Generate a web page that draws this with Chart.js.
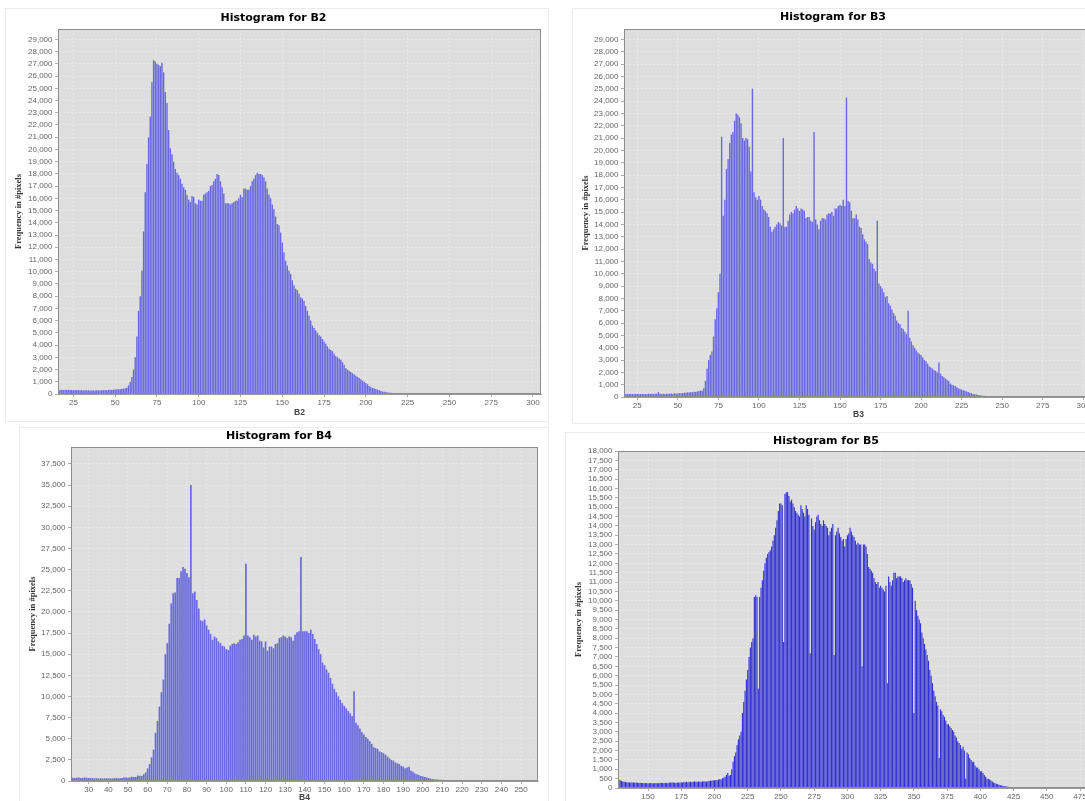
<!DOCTYPE html>
<html lang="es">
<head>
<meta charset="UTF-8">
<title>Histogramas B2 - B5</title>
<script src="https://cdn.jsdelivr.net/npm/chart.js@4.4.1/dist/chart.umd.min.js"></script>
<style>
    html, body { margin: 0; padding: 0; background: #fff; width: 1085px; height: 801px; overflow: hidden; position: relative; }
    canvas { position: absolute; background: #fff; outline: 1px solid #ebebeb; }
</style>
</head>
<body>
<canvas id="histB2" width="542" height="412" style="left:6px;top:9px"></canvas>
<canvas id="histB3" width="527" height="414" style="left:573px;top:9px"></canvas>
<canvas id="histB4" width="528" height="378" style="left:20px;top:428px"></canvas>
<canvas id="histB5" width="530" height="380" style="left:566px;top:433px"></canvas>
<script>
// Frecuencias por valor de banda (un valor por cada nivel, empezando en inicioBx)
const inicioB2 = 17;
const frecuenciasB2 = [
    330, 340, 320, 330, 340, 330, 320, 330, 310,
    320, 300, 310, 300, 300, 290, 300, 290, 300, 290,
    280, 290, 280, 300, 290, 290, 300, 310, 320, 300,
    330, 340, 330, 350, 360, 380, 400, 390, 420, 430,
    480, 520, 700, 1000, 1400,
    2000, 3000, 4700, 6800, 8000, 10100, 13300, 16500, 18800, 21000,
    22700, 25500, 27300, 27200, 27000, 26900, 26800, 27100, 26300, 24700,
    23800, 21600, 20100, 19600, 19000, 18400, 18100, 17900, 17600, 17200,
    16900, 16700, 16300, 15900, 15700, 16200, 16100, 15600, 15500, 15900,
    15800, 15800, 16300, 16400, 16500, 16600, 17000, 17100, 17400, 17600,
    18000, 17900, 17400, 16900, 16400, 15600, 15600, 15600, 15500, 15600,
    15700, 15800, 15800, 16000, 16300, 16100, 16800, 16800, 16700, 16700,
    17000, 17400, 17600, 17900, 18100, 18000, 18000, 17900, 17700, 17400,
    16800, 16300, 16000, 15500, 15100, 14500, 13900, 13800, 13200, 12400,
    11600, 10900, 10500, 10100, 9800, 9300, 8900, 8600, 8500, 8200,
    7900, 7800, 7600, 7200, 6800, 6400, 6000, 5600, 5400, 5200,
    5000, 4800, 4700, 4500, 4300, 4100, 3900, 3700, 3600, 3500,
    3300, 3100, 3000, 2900, 2800, 2600, 2400, 2100, 2000, 1900,
    1800, 1700, 1600, 1500, 1400, 1300, 1200, 1100, 1000, 900,
    800, 650, 550, 500, 450, 400, 350, 300, 250, 200,
    180, 150, 130, 110, 100, 90, 80, 70, 60, 50,
    40, 35, 30, 28, 25, 22, 20, 18, 15, 12
];

const inicioB3 = 16;
const frecuenciasB3 = [
    300, 260, 250, 240, 250, 240, 250, 240, 250, 240,
    250, 240, 240, 250, 240, 250, 260, 250, 260, 250,
    270, 260, 400, 260, 250, 260, 250, 260, 270, 260,
    280, 270, 300, 290, 280, 320, 300, 330, 350, 340,
    380, 360, 400, 380, 420, 400, 450, 480, 520,
    500, 700, 1300, 2300, 3000, 3400,
    3700, 4900, 6300, 7200, 8500, 10000, 21100, 14700, 16000, 18500,
    19300, 20600, 21300, 21500, 22400, 23000, 22900, 22700, 22200, 21000,
    20800, 21000, 20900, 20300, 18300, 25000, 16600, 16200, 16000, 16300,
    16000, 15500, 15200, 15100, 14900, 14600, 13800, 13400, 13600, 13800,
    14000, 14200, 14100, 13900, 21000, 13800, 13800, 14300, 14800, 15000,
    14900, 15200, 15500, 15300, 15100, 15300, 15200, 15100, 14500, 14600,
    14600, 14300, 14200, 21500, 14400, 14000, 13600, 14300, 14500, 14500,
    14400, 14800, 14900, 14900, 15000, 14700, 15300, 15300, 15500, 15600,
    15500, 16000, 15500, 24300, 15900, 15800, 15100, 14500, 14500, 14800,
    14400, 13800, 13700, 13200, 12800, 12600, 12400, 11200, 10900, 10800,
    10400, 10200, 14300, 9200, 9000, 8800, 8500, 8100, 8200, 7600,
    7400, 7100, 6800, 6600, 6200, 6000, 5900, 5600, 5500, 5300,
    5100, 7000, 4800, 4500, 4200, 4000, 3800, 3600, 3500, 3400,
    3200, 3000, 2900, 2700, 2500, 2400, 2300, 2200, 2100, 2000,
    2800, 1900, 1700, 1600, 1500, 1400, 1300, 1100, 1000, 950,
    900, 800, 700, 650, 600, 550, 500, 450, 400, 350,
    300, 250, 220, 200, 170, 150, 130, 110, 100, 90,
    80, 75, 70, 65, 60, 55, 50, 45, 40, 38,
    35, 32, 30, 28, 25, 22, 20, 18, 15, 12
];

const inicioB4 = 21;
const frecuenciasB4 = [
    350, 380, 360, 380, 400, 350, 360, 420, 380, 360,
    340, 350, 320, 330, 300, 320, 300, 310, 330, 300,
    320, 300, 340, 330, 320, 340, 360, 420, 400, 380,
    450, 500, 470, 480, 650, 620, 600, 800, 1000, 1500,
    2000, 2800, 3700, 5700, 7100, 8800, 10500, 12000, 15000, 16300,
    18600, 21000, 22200, 22300, 24000, 24000, 24800, 25300, 25100, 24600,
    24100, 35000, 22200, 22400, 21400, 20400, 19000, 18900, 19100, 18400,
    17900, 17400, 16700, 17100, 16900, 16500, 16300, 16000, 15900, 15600,
    15500, 16000, 16200, 16300, 16200, 16400, 16700, 16800, 17200, 25700,
    17200, 17000, 16700, 17300, 17100, 17200, 16600, 16500, 15800, 16500,
    15400, 15900, 15900, 15700, 16200, 16300, 16900, 17000, 17200, 17100,
    16900, 17100, 17000, 16600, 17300, 17600, 17700, 26500, 17700, 17700,
    17700, 17500, 17900, 17400, 16800, 16200, 15600, 15000, 14000, 13700,
    13200, 12800, 12200, 11500, 10900, 10500, 10000, 9600, 9200, 8900,
    8600, 8300, 8000, 7700, 10600, 6900, 6600, 6200, 5800, 5500,
    5200, 5000, 4700, 4400, 4000, 3900, 3800, 3500, 3400, 3300,
    3100, 2900, 2700, 2500, 2400, 2200, 2100, 2000, 1800, 1700,
    1500, 1600, 1700, 1200, 1100, 900, 800, 700, 600, 550,
    480, 420, 350, 280, 230, 200, 180, 160, 150, 130,
    120, 110, 100, 90, 80, 70, 60, 55, 50, 40, 30, 20
];

const inicioB5 = 128;
const frecuenciasB5 = [
    450, 420, 380, 350, 330, 320, 310, 300, 300, 290,
    300, 290, 280, 290, 280, 270, 280, 270, 270, 260,
    270, 260, 250, 260, 270, 260, 250, 260, 270, 260,
    260, 270, 280, 270, 260, 280, 270, 260, 290, 280,
    300, 290, 280, 270, 300, 290, 280, 310, 300, 320,
    310, 330, 300, 340, 330, 320, 340, 350, 330, 340,
    350, 340, 330, 350, 360, 350, 340, 360, 380, 400,
    390, 420, 410, 430, 420, 450, 480, 460, 520, 560,
    600, 700, 800, 650, 700, 1000, 1400, 1700, 1900, 2300,
    2600, 2800, 3000, 4000, 4600, 5200, 5800, 6300, 7000, 7500,
    7800, 8000, 10200, 10300, 10200, 5300, 10200, 10700, 11100, 11600,
    12000, 12300, 12500, 12600, 12700, 12900, 13200, 13500, 13900, 14300,
    14800, 15200, 15200, 15100, 7800, 15700, 15800, 15800, 15600, 15300,
    15400, 15200, 15000, 14800, 14700, 14600, 14500, 15100, 14900, 14700,
    14500, 15100, 14900, 14600, 7200, 14400, 14000, 13800, 14200, 14500,
    14600, 14300, 14100, 14000, 14300, 14100, 14000, 13900, 13500, 13700,
    13900, 14100, 7100, 13500, 13700, 13900, 13600, 13400, 13200, 13300,
    12900, 13300, 13500, 13600, 13900, 13700, 13500, 13400, 13200, 13000,
    13100, 13000, 13000, 6500, 13000, 13000, 12900, 12500, 11800, 11700,
    11600, 11500, 11200, 11000, 10900, 11000, 10700, 10800, 10700, 10600,
    10500, 10800, 5600, 11300, 11000, 10800, 11100, 11500, 11500, 11200,
    11300, 11300, 11300, 11200, 11000, 11100, 11200, 11100, 11100, 11100,
    10900, 10700, 4000, 10000, 9500, 9200, 9000, 8800, 8300, 8000,
    7700, 7400, 7100, 6800, 6300, 6000, 5600, 5200, 4900, 4600,
    4400, 1600, 4200, 4100, 3900, 3800, 3600, 3400, 3400, 3300,
    3200, 3100, 3000, 2800, 2700, 2500, 2400, 2300, 2100, 2200,
    2000, 500, 1900, 1800, 1600, 1500, 1400, 1400, 1200, 1100,
    1100, 1000, 900, 900, 800, 700, 600, 500, 500, 450,
    400, 350, 300, 250, 230, 200, 180, 160, 140, 120,
    100, 90, 80, 70, 60, 55, 50, 45, 40, 35,
    30, 28, 25, 22, 20, 18, 15, 12
];

// Marcas de los ejes
const ticksXB2 = [25, 50, 75, 100, 125, 150, 175, 200, 225, 250, 275, 300];
const ticksXB3 = [25, 50, 75, 100, 125, 150, 175, 200, 225, 250, 275, 300];
const ticksXB4 = [30, 40, 50, 60, 70, 80, 90, 100, 110, 120, 130, 140, 150, 160, 170, 180, 190, 200, 210, 220, 230, 240, 250];
const ticksXB5 = [150, 175, 200, 225, 250, 275, 300, 325, 350, 375, 400, 425, 450, 475];
const ticksYB2 = [0, 1000, 2000, 3000, 4000, 5000, 6000, 7000, 8000, 9000, 10000, 11000, 12000, 13000, 14000,
    15000, 16000, 17000, 18000, 19000, 20000, 21000, 22000, 23000, 24000, 25000, 26000, 27000, 28000, 29000];
const ticksYB3 = ticksYB2;
const ticksYB4 = [0, 2500, 5000, 7500, 10000, 12500, 15000, 17500, 20000, 22500, 25000, 27500, 30000, 32500, 35000, 37500];
const ticksYB5 = [0, 500, 1000, 1500, 2000, 2500, 3000, 3500, 4000, 4500, 5000, 5500, 6000, 6500, 7000, 7500, 8000, 8500,
    9000, 9500, 10000, 10500, 11000, 11500, 12000, 12500, 13000, 13500, 14000, 14500, 15000, 15500, 16000, 16500, 17000, 17500, 18000];

// Fondo gris del área de dibujo y su contorno
const fondoGrafico = {
    id: 'fondoGrafico',
    beforeDraw(chart) {
        const { ctx, chartArea: a } = chart;
        ctx.save();
        ctx.fillStyle = '#dedede';
        ctx.fillRect(a.left, a.top, a.right - a.left, a.bottom - a.top);
        ctx.restore();
    },
    afterDatasetsDraw(chart) {
        const { ctx, chartArea: a } = chart;
        ctx.save();
        ctx.strokeStyle = '#8c8c8c';
        ctx.lineWidth = 1;
        ctx.strokeRect(a.left + 0.5, a.top + 0.5, a.right - a.left - 1, a.bottom - a.top - 1);
        ctx.restore();
    }
};

const fuenteTicks = { family: 'Liberation Sans', size: 8 };
const colorRejilla = 'rgba(255,255,255,0.4)';

// Función para crear un histograma
function crearHistograma(id, c) {
    const ctx = document.getElementById(id).getContext('2d');
    const datos = c.valores.map((v, i) => ({ x: c.inicio + i, y: v }));

    return new Chart(ctx, {
        type: 'bar',
        data: {
            datasets: [{
                data: datos,
                backgroundColor: c.color,
                borderWidth: 0,
                barPercentage: 0.85,
                categoryPercentage: 1
            }]
        },
        options: {
            responsive: false,
            animation: false,
            layout: { padding: { left: 0, right: c.derecha, top: 0, bottom: 0 } },
            plugins: {
                legend: { display: false },
                tooltip: { enabled: false },
                title: {
                    display: true,
                    text: c.titulo,
                    color: '#000',
                    font: { family: 'DejaVu Sans', weight: 'bold', size: 11 },
                    padding: { top: c.tituloY - 6.6, bottom: c.arriba - c.tituloY - 6.6 }
                }
            },
            scales: {
                x: {
                    type: 'linear',
                    offset: false,
                    min: c.minX,
                    max: c.maxX,
                    afterBuildTicks: s => { s.ticks = c.ticksX.map(v => ({ value: v })); },
                    afterFit: s => { s.height = c.altoX; },
                    grid: { offset: false, color: colorRejilla, lineWidth: 0.8, tickLength: 3, tickColor: '#999' },
                    border: { color: '#999', dash: [2, 2] },
                    ticks: { font: fuenteTicks, color: '#666', padding: 1, autoSkip: false, maxRotation: 0, callback: v => v },
                    title: {
                        display: true,
                        text: c.ejeX,
                        color: '#444',
                        font: { family: 'Liberation Sans', weight: 'bold', size: 8.5 },
                        padding: { top: 0, bottom: 3 }
                    }
                },
                y: {
                    min: 0,
                    max: c.maxY,
                    afterBuildTicks: s => { s.ticks = c.ticksY.map(v => ({ value: v })); },
                    afterFit: s => { s.width = c.anchoY; },
                    grid: { color: colorRejilla, lineWidth: 0.8, tickLength: 3, tickColor: '#999' },
                    border: { color: '#999', dash: [2, 2] },
                    ticks: { font: fuenteTicks, color: '#666', padding: 2.5, autoSkip: false, callback: v => v.toLocaleString('en-US') },
                    title: {
                        display: true,
                        text: 'Frequency in #pixels',
                        color: '#333',
                        font: { family: 'Liberation Serif', weight: 'bold', size: 8.5 },
                        padding: { top: 8, bottom: 0 }
                    }
                }
            }
        },
        plugins: [fondoGrafico]
    });
}

// Evento de carga de la página
document.addEventListener('DOMContentLoaded', () => {
    crearHistograma('histB2', {
        titulo: 'Histogram for B2', ejeX: 'B2', inicio: inicioB2, valores: frecuenciasB2,
        ticksX: ticksXB2, ticksY: ticksYB2, minX: 15.8, maxX: 304.8, maxY: 29850,
        color: 'rgb(105,105,223)', anchoY: 52, altoX: 27, derecha: 7, arriba: 20, tituloY: 9
    });
    crearHistograma('histB3', {
        titulo: 'Histogram for B3', ejeX: 'B3', inicio: inicioB3, valores: frecuenciasB3,
        ticksX: ticksXB3, ticksY: ticksYB3, minX: 16.8, maxX: 306, maxY: 29850,
        color: 'rgb(105,105,223)', anchoY: 51, altoX: 26, derecha: 7, arriba: 20, tituloY: 8
    });
    crearHistograma('histB4', {
        titulo: 'Histogram for B4', ejeX: 'B4', inicio: inicioB4, valores: frecuenciasB4,
        ticksX: ticksXB4, ticksY: ticksYB4, minX: 21, maxX: 258.6, maxY: 39500,
        color: 'rgb(105,105,223)', anchoY: 51, altoX: 25, derecha: 10, arriba: 19, tituloY: 8
    });
    crearHistograma('histB5', {
        titulo: 'Histogram for B5', ejeX: 'B5', inicio: inicioB5, valores: frecuenciasB5,
        ticksX: ticksXB5, ticksY: ticksYB5, minX: 127.4, maxX: 479.5, maxY: 18000,
        color: 'rgb(50,50,208)', anchoY: 52, altoX: 25, derecha: 10, arriba: 18, tituloY: 8
    });
});
</script>
</body>
</html>
